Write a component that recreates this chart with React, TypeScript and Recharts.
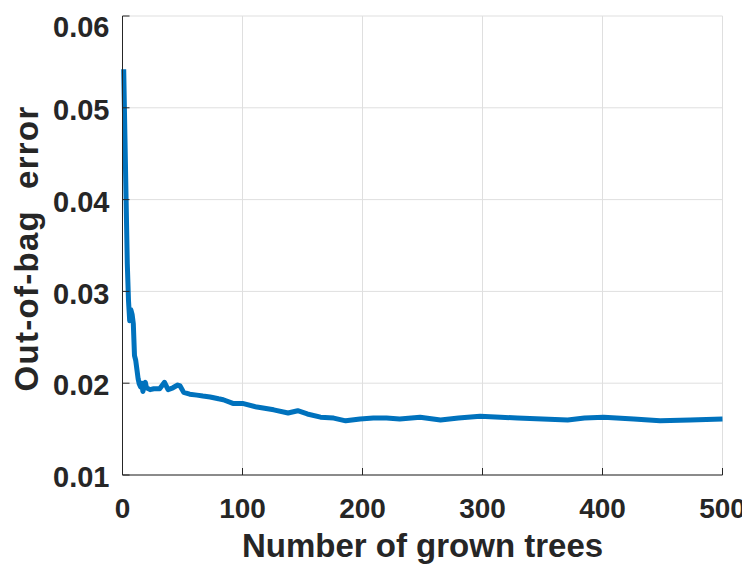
import React from 'react';
import { LineChart, Line, XAxis, YAxis, CartesianGrid, Label } from 'recharts';

// number of grown trees (x) and out-of-bag error (y)
const trees = [
  1, 2, 3, 4, 5, 6, 7, 8, 9, 10, 11, 12, 13, 14, 15, 16, 17, 18, 19, 20,
  23, 26, 31, 35, 38, 42, 46, 48, 51, 56, 62, 67, 73, 80, 84, 92, 100,
  112, 126, 138, 146, 154, 165, 176, 186, 198, 209, 220, 231, 248, 265,
  280, 298, 315, 329, 350, 371, 385, 401, 426, 448, 473, 500,
];
const oobError = [
  0.0542, 0.047, 0.040, 0.033, 0.029, 0.0268, 0.028, 0.0275, 0.0265, 0.023,
  0.0225, 0.0215, 0.0205, 0.0199, 0.0196, 0.0200, 0.0191, 0.0197, 0.0201, 0.0195,
  0.0193, 0.0194, 0.0194, 0.0201, 0.0193, 0.0195, 0.0198, 0.0197, 0.0190, 0.0188,
  0.0187, 0.0186, 0.0185, 0.0183, 0.0182, 0.0178, 0.0178,
  0.0174, 0.0171, 0.01675, 0.0170, 0.01665, 0.0163, 0.0162, 0.0159, 0.0161, 0.0162,
  0.0162, 0.0161, 0.0163, 0.0160,
  0.0162, 0.0164, 0.0163, 0.0162, 0.0161, 0.0160, 0.0162, 0.0163, 0.0161, 0.0159, 0.0160, 0.0161,
];
const xTicks = [0, 100, 200, 300, 400, 500];
const yTicks = [0.01, 0.02, 0.03, 0.04, 0.05, 0.06];

const data = trees.map((t, i) => ({ trees: t, error: oobError[i] }));

const font = '"Liberation Sans", Arial, Helvetica, sans-serif';
const ink = '#262626';

const XTitle = () => (
  <text x={414.5} y={549} textAnchor="middle" fontFamily={font} fontWeight="bold" fontSize={33} fill={ink}>
    Number of grown trees
  </text>
);

const YTitle = () => (
  <text
    x={30}
    y={240.5}
    textAnchor="middle"
    transform="rotate(-90, 30, 240.5)"
    fontFamily={font}
    fontWeight="bold"
    fontSize={33}
    fill={ink}
    letterSpacing={1.3}
    style={{ whiteSpace: 'pre' }}
  >
    {'Out-of-bag  error'}
  </text>
);

export default function App() {
  return (
    <div style={{ width: 742, height: 558, background: '#fff' }}>
      <LineChart width={742} height={558} data={data} margin={{ top: 8, right: 27.5, bottom: 0, left: 0 }}>
        <CartesianGrid xAxisId="bottom" yAxisId="left" stroke="#dfdfdf" strokeWidth={1} />
        <XAxis
          xAxisId="bottom"
          type="number"
          dataKey="trees"
          domain={[0, 500]}
          ticks={xTicks}
          height={91}
          tickSize={-7}
          tickMargin={30}
          stroke={ink}
          tick={{ fontSize: 28, fill: ink, fontWeight: 'bold', fontFamily: font }}
        >
          <Label content={XTitle} />
        </XAxis>
        <XAxis
          xAxisId="top"
          orientation="top"
          type="number"
          dataKey="trees"
          domain={[0, 500]}
          ticks={xTicks}
          height={0}
          tickSize={-7}
          tick={false}
          stroke={ink}
        />
        <YAxis
          yAxisId="left"
          type="number"
          domain={[0.01, 0.06]}
          ticks={yTicks}
          width={114.5}
          tickSize={-7}
          tickMargin={20}
          stroke={ink}
          tickFormatter={(v: number) => v.toFixed(2)}
          tick={{ fontSize: 29, fill: ink, fontWeight: 'bold', fontFamily: font, dy: 2 }}
        >
          <Label content={YTitle} />
        </YAxis>
        <YAxis
          yAxisId="right"
          orientation="right"
          type="number"
          domain={[0.01, 0.06]}
          ticks={yTicks}
          width={0}
          tickSize={-7}
          tick={false}
          stroke={ink}
        />
        <Line
          xAxisId="bottom"
          yAxisId="left"
          type="linear"
          dataKey="error"
          stroke="#0072BD"
          strokeWidth={5}
          dot={false}
          strokeLinejoin="round"
          isAnimationActive={false}
        />
      </LineChart>
    </div>
  );
}
